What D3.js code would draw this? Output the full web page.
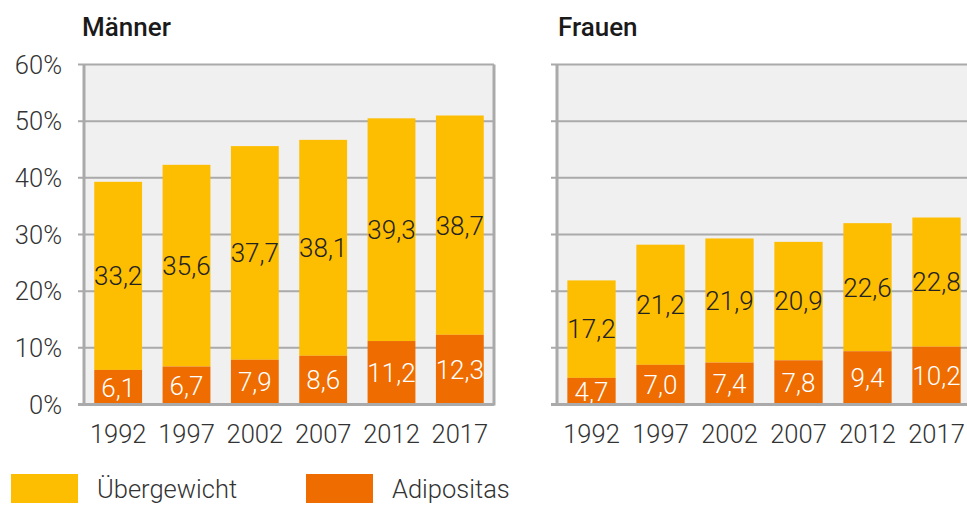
<!DOCTYPE html>
<html>
<head>
<meta charset="utf-8">
<script src="https://cdn.jsdelivr.net/npm/d3@7"></script>
<style>
  body { margin: 0; background: #fff; }
  svg text { font-family: Roboto, "Noto Sans", sans-serif; }
</style>
</head>
<body>
<div id="chart"></div>
<script>
// data
var years = ["1992", "1997", "2002", "2007", "2012", "2017"];
var maennerAdipositas = [6.1, 6.7, 7.9, 8.6, 11.2, 12.3];
var maennerUebergewicht = [33.2, 35.6, 37.7, 38.1, 39.3, 38.7];
var frauenAdipositas = [4.7, 7.0, 7.4, 7.8, 9.4, 10.2];
var frauenUebergewicht = [17.2, 21.2, 21.9, 20.9, 22.6, 22.8];
var yTicks = [0, 10, 20, 30, 40, 50, 60];
var seriesNames = ["Übergewicht", "Adipositas"];

var colYellow = "#fdbd00", colOrange = "#ee6c00", colGrid = "#aaaaaa";

var svg = d3.select('#chart').append('svg')
	.attr('width', 967)
	.attr('height', 505);

var y = d3.scaleLinear().domain([0, 60]).range([404.5, 64.5]);

function drawPanel(title, titleX, x0, x1, adi, ueb, showLabels) {
	var g = svg.append('g');
	var x = d3.scaleBand().domain(years).range([x0, x1]).paddingInner(0.3).paddingOuter(0.15);

	g.append('text')
		.attr('x', titleX).attr('y', 36)
		.attr('font-size', 26).attr('font-weight', 500).attr('fill', '#1a1a1a')
		.text(title);

	// background
	g.append('rect')
		.attr('x', x0).attr('y', y(60))
		.attr('width', x1 - x0).attr('height', y(0) - y(60))
		.attr('fill', '#f0f0f0');

	// gridlines + tick stubs
	g.selectAll('.grid').data(yTicks).enter().append('line')
		.attr('x1', x0 - 6).attr('x2', x1)
		.attr('y1', function(d) { return y(d); })
		.attr('y2', function(d) { return y(d); })
		.attr('stroke', colGrid).attr('stroke-width', 2);

	if (showLabels) {
		g.selectAll('.ylab').data(yTicks).enter().append('text')
			.attr('x', 62).attr('y', function(d) { return y(d); })
			.attr('dy', '0.36em')
			.attr('text-anchor', 'end')
			.attr('font-size', 25.5).attr('font-weight', 300).attr('fill', '#333')
			.text(function(d) { return d + "%"; });
	}

	// bars
	years.forEach(function(yr, i) {
		var total = adi[i] + ueb[i];
		g.append('rect')
			.attr('x', x(yr)).attr('width', x.bandwidth())
			.attr('y', y(total)).attr('height', y(adi[i]) - y(total))
			.attr('fill', colYellow);
		g.append('rect')
			.attr('x', x(yr)).attr('width', x.bandwidth())
			.attr('y', y(adi[i])).attr('height', y(0) - y(adi[i]))
			.attr('fill', colOrange);
		g.append('text')
			.attr('x', x(yr) + x.bandwidth() / 2)
			.attr('y', (y(total) + y(adi[i])) / 2)
			.attr('dy', '0.36em').attr('text-anchor', 'middle')
			.attr('font-size', 26).attr('font-weight', 300).attr('fill', '#222')
			.text(d3.format('.1f')(ueb[i]).replace('.', ','));
		g.append('text')
			.attr('x', x(yr) + x.bandwidth() / 2)
			.attr('y', (y(adi[i]) + y(0)) / 2)
			.attr('dy', '0.36em').attr('text-anchor', 'middle')
			.attr('font-size', 26).attr('font-weight', 300).attr('fill', '#fff')
			.text(d3.format('.1f')(adi[i]).replace('.', ','));
		g.append('text')
			.attr('x', x(yr) + x.bandwidth() / 2)
			.attr('y', 443)
			.attr('text-anchor', 'middle')
			.attr('font-size', 25.5).attr('font-weight', 300).attr('fill', '#333')
			.text(yr);
	});

	// axis frame
	g.append('line').attr('x1', x0).attr('x2', x0).attr('y1', y(60)).attr('y2', y(0) + 1)
		.attr('stroke', colGrid).attr('stroke-width', 3);
	g.append('line').attr('x1', x1).attr('x2', x1).attr('y1', y(60)).attr('y2', y(0) + 1)
		.attr('stroke', colGrid).attr('stroke-width', 3);
	g.append('line').attr('x1', x0 - 6).attr('x2', x1).attr('y1', y(0)).attr('y2', y(0))
		.attr('stroke', colGrid).attr('stroke-width', 3);
}

drawPanel("Männer", 82, 84, 494, maennerAdipositas, maennerUebergewicht, true);
drawPanel("Frauen", 558, 557, 971, frauenAdipositas, frauenUebergewicht, false);

// legend
var legend = svg.append('g');
var legX = [11, 306];
var legCol = [colYellow, colOrange];
seriesNames.forEach(function(n, i) {
	legend.append('rect').attr('x', legX[i]).attr('y', 474)
		.attr('width', 67).attr('height', 29).attr('fill', legCol[i]);
	legend.append('text').attr('x', legX[i] + 86).attr('y', 498)
		.attr('font-size', 25.5).attr('font-weight', 300).attr('fill', '#333')
		.text(n);
});
</script>
</body>
</html>
